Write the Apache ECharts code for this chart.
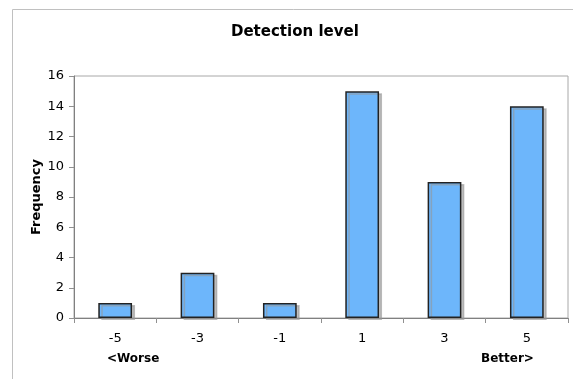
<!DOCTYPE html>
<html>
<head>
<meta charset="utf-8">
<style>
  html, body { margin: 0; padding: 0; background: #fff; }
  #chart { width: 573px; height: 379px; }
</style>
<script src="https://cdn.jsdelivr.net/npm/echarts@6/dist/echarts.min.js"></script>
</head>
<body>
<div id="chart"></div>
<script>
// Detection level histogram
const categories = ['-5', '-3', '-1', '1', '3', '5'];
const frequency = [1, 3, 1, 15, 9, 14];
const yTicks = { min: 0, max: 16, interval: 2 };

const FONT = '"DejaVu Sans", Verdana, sans-serif';
const chart = echarts.init(document.getElementById('chart'), null, { renderer: 'canvas' });

chart.setOption({
  animation: false,
  backgroundColor: '#fff',
  title: {
    text: 'Detection level',
    left: 226, top: 20,
    textStyle: { fontFamily: FONT, fontSize: 15, fontWeight: 'bold', color: '#000' }
  },
  grid: { left: 74, right: 5, top: 76, bottom: 61, show: true, borderColor: '#a8a8a8', borderWidth: 1 },
  xAxis: {
    type: 'category',
    data: categories,
    axisLine: { lineStyle: { color: '#808080', width: 1 } },
    axisTick: { show: true, alignWithLabel: false, length: 5, lineStyle: { color: '#909090' } },
    axisLabel: { fontFamily: FONT, fontSize: 13, color: '#000', margin: 14 },
    splitLine: { show: false }
  },
  yAxis: {
    type: 'value',
    min: yTicks.min, max: yTicks.max, interval: yTicks.interval,
    axisLine: { show: true, lineStyle: { color: '#808080', width: 1 } },
    axisTick: { show: true, length: 5, lineStyle: { color: '#909090' } },
    axisLabel: { fontFamily: FONT, fontSize: 13, color: '#000', margin: 10 },
    splitLine: { show: false }
  },
  series: [{
    type: 'bar',
    data: frequency,
    barWidth: '41%',
    itemStyle: {
      color: '#6db6fb',
      borderColor: '#222',
      borderWidth: 1.5,
      shadowColor: 'rgba(150,150,150,0.6)',
      shadowBlur: 0,
      shadowOffsetX: 3,
      shadowOffsetY: 2
    }
  }],
  graphic: [
    {
      type: 'rect',
      shape: { x: 12.5, y: 9.5, width: 620, height: 420 },
      style: { fill: null, stroke: '#c0c0c0', lineWidth: 1 },
      silent: true, z: -1
    },
    {
      // y-axis title, rotated to read bottom-to-top
      type: 'text', x: 37, y: 197, rotation: Math.PI / 2,
      style: {
        text: 'Frequency', font: 'bold 13px ' + FONT, fill: '#000',
        align: 'center', verticalAlign: 'middle'
      }
    },
    {
      type: 'text', left: 107, top: 353,
      style: { text: '<Worse', font: 'bold 12px ' + FONT, fill: '#000' }
    },
    {
      type: 'text', left: 481, top: 353,
      style: { text: 'Better>', font: 'bold 12px ' + FONT, fill: '#000' }
    }
  ]
});
</script>
</body>
</html>
